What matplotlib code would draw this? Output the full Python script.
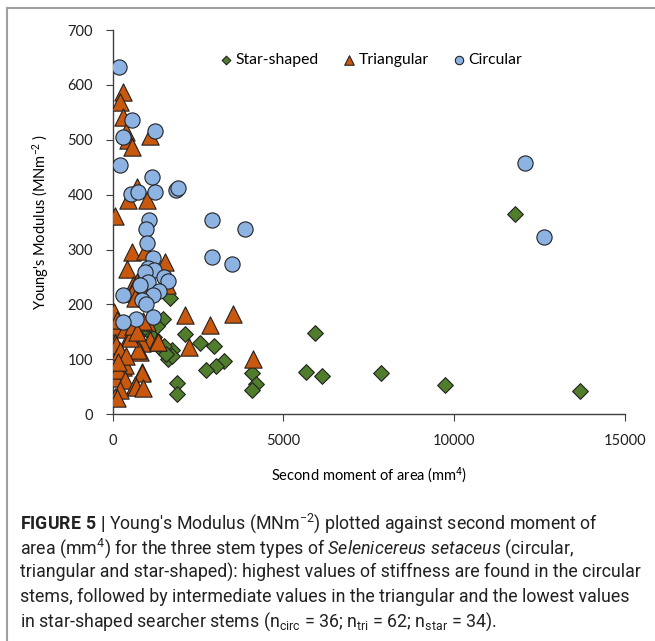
import matplotlib
matplotlib.use("Agg")
import matplotlib.pyplot as plt
from matplotlib.lines import Line2D

plt.rcParams['font.family'] = ['Lato', 'DejaVu Sans']
plt.rcParams['mathtext.fontset'] = 'custom'
plt.rcParams['mathtext.rm'] = 'Roboto'
plt.rcParams['mathtext.it'] = 'Roboto:italic'
plt.rcParams['mathtext.bf'] = 'Roboto:bold'

# second moment of area (mm^4), Young's modulus (MNm^-2)
circ_x = [190, 555, 1237, 292, 216, 1158, 535, 750, 1237, 1842, 1918, 1070, 974, 2913,
          3889, 994, 1187, 2895, 3509, 1023, 1216, 944, 1509, 1607, 1041, 798, 1354,
          1187, 310, 866, 965, 1187, 672, 310, 12080, 12630]
circ_y = [632, 537, 517, 505, 454, 432, 402, 405, 405, 409, 413, 353, 337, 353,
          338, 311, 285, 287, 274, 267, 262, 259, 250, 242, 241, 236, 224,
          218, 218, 208, 200, 177, 174, 167, 457, 322]

tri_x = [292, 215, 292, 380, 1090, 456, 555, 700, 456, 994, 67,
         573, 944, 1529, 409, 603, 700, 750, 1578, 555, 652, 1023, 47, 2114, 2845,
         3527, 4111, 2241,
         18, 164, 117, 456, 360, 485, 994, 1090, 1286, 847, 798, 750, 67, 88, 263,
         117, 310, 360, 117, 847, 866, 67, 164, 360, 652, 672, 896, 213, 67, 117,
         506, 900, 600, 1315, 700, 213, 400, 150]
tri_y = [588, 569, 541, 514, 507, 499, 487, 414, 390, 390, 362,
         296, 297, 277, 265, 235, 240, 236, 235, 220, 212, 228, 187, 180, 162,
         183, 100, 123,
         104, 160, 172, 162, 156, 141, 168, 135, 132, 129, 113, 116, 129, 126, 107,
         104, 86, 90, 83, 77, 74, 65, 80, 62, 53, 50, 47, 44, 32, 29,
         138, 170, 160, 132, 150, 115, 105, 95]

star_x = [11780, 5940, 5652, 6140, 7870, 9746, 13693, 2962, 2553, 3254, 3020, 2748,
          4094, 4211, 4094, 2114, 1725, 1626, 1871, 1871, 1383, 1090, 652, 1675,
          1480, 1200, 1500, 900, 1300, 800, 1750, 1550, 700]
star_y = [364, 147, 77, 69, 74, 53, 42, 124, 130, 97, 88, 80,
          75, 55, 44, 146, 117, 101, 56, 36, 120, 147, 159, 211,
          173, 140, 125, 155, 160, 170, 105, 110, 145]

fig = plt.figure(figsize=(6.55, 6.41), dpi=100)
ax = fig.add_axes([0.172, 0.354, 0.782, 0.599])

ax.scatter(star_x, star_y, marker='D', s=64, c='#4F7D2C', edgecolors='#222222',
           linewidths=0.8, label='Star-shaped', zorder=3)
ax.scatter(tri_x, tri_y, marker='^', s=155, c='#C9580F', edgecolors='#222222',
           linewidths=0.8, label='Triangular', zorder=3)
ax.scatter(circ_x, circ_y, marker='o', s=120, c='#8DB3E2', edgecolors='#222222',
           linewidths=0.8, label='Circular', zorder=3)

ax.set_xlim(0, 15000)
ax.set_ylim(0, 700)
ax.set_xticks([0, 5000, 10000, 15000])
ax.set_yticks(range(0, 701, 100))
for s in ['top', 'right']:
    ax.spines[s].set_visible(False)
for s in ['left', 'bottom']:
    ax.spines[s].set_color('#404040')
    ax.spines[s].set_linewidth(1.0)
ax.tick_params(direction='out', length=5, color='#404040', labelsize=10.5,
               labelcolor='#202020', pad=9)

ax.set_xlabel('Second moment of area (mm$^4$)', fontsize=10.5, labelpad=13)
ax.set_ylabel("Young's Modulus (MNm$^{-2}$ )", fontsize=10.5, labelpad=12)

leg = ax.legend(loc='upper center', bbox_to_anchor=(0.505, 0.977), ncol=3,
                frameon=False, prop={'size': 11.3}, handlelength=0.7,
                handletextpad=0.25, columnspacing=1.6, markerscale=0.55)

# caption
cap = [r"$\bf{FIGURE\ 5\ |}$ Young's Modulus (MNm$^{-2}$) plotted against second moment of",
       r"area (mm$^4$) for the three stem types of $\it{Selenicereus\ setaceus}$ (circular,",
       "triangular and star-shaped): highest values of stiffness are found in the circular",
       "stems, followed by intermediate values in the triangular and the lowest values",
       r"in star-shaped searcher stems (n$_{\rm circ}$ = 36; n$_{\rm tri}$ = 62; n$_{\rm star}$ = 34)."]
for i, line in enumerate(cap):
    fig.text(20 / 655, 1 - (523 + i * 24.8) / 641, line, fontsize=12.8,
             family='Roboto', color='#222222', va='center', ha='left')

# frame lines on the left and top
fig.add_artist(Line2D([7 / 655, 7 / 655], [0, 1 - 8 / 641], color='#a0a0a0', lw=1.5))
fig.add_artist(Line2D([7 / 655, 1], [1 - 8 / 641, 1 - 8 / 641], color='#a0a0a0', lw=1.5))

fig.savefig('out.png', dpi=100)
